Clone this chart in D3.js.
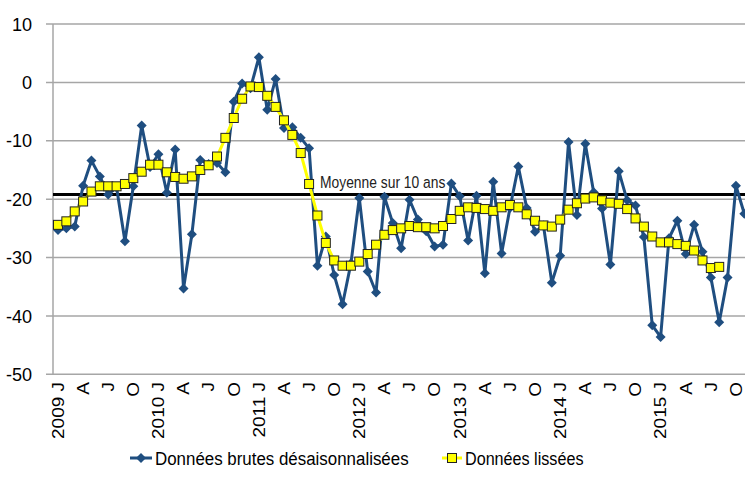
<!DOCTYPE html>
<html lang="fr">
<head>
    <meta charset="UTF-8">
    <title>Données brutes et lissées</title>
    <script src="https://d3js.org/d3.v7.min.js"></script>
    <style>
        body {
            margin: 0;
            background: #ffffff;
            font-family: 'Liberation Sans', Arial, sans-serif;
        }
        .grid line {
            stroke: #a6a6a6;
            stroke-width: 1.5px;
        }
        .tick-label {
            font-size: 19px;
            fill: #000;
        }
        .legend text {
            font-size: 19px;
            fill: #000;
        }
    </style>
</head>
<body>
    <svg width="745" height="494"></svg>

    <script>
        // années et lettres des mois (étiquettes tous les 3 mois)
        const years = [2009, 2010, 2011, 2012, 2013, 2014, 2015];
        const monthLetters = ["J", "F", "M", "A", "M", "J", "J", "A", "S", "O", "N", "D"];
        const yTicks = [10, 0, -10, -20, -30, -40, -50];

        // données brutes désaisonnalisées (janv. 2009 -> nov. 2015)
        const rawValues = [
            -25.3, -25.0, -24.7, -17.7, -13.4, -16.1, -19.2, -18.0, -27.2, -17.8, -7.4, -14.5,
            -12.3, -18.9, -11.5, -35.3, -26.0, -13.3, -14.0, -13.8, -15.4, -3.3, -0.2, -1.0,
            4.3, -4.7, 0.6, -7.8, -7.7, -9.5, -11.3, -31.4, -26.4, -33.0, -38.0, -31.0,
            -19.8, -32.4, -36.0, -19.6, -24.1, -28.4, -20.1, -23.5, -25.5, -28.1, -27.8, -17.3,
            -19.5, -27.1, -19.4, -32.7, -17.0, -29.3, -21.5, -14.4, -21.5, -25.6, -24.5, -34.3,
            -29.7, -10.2, -22.7, -10.5, -18.8, -21.6, -31.2, -15.2, -20.2, -21.1, -26.5, -41.6,
            -43.6, -26.7, -23.7, -29.4, -24.4, -29.0, -33.4, -41.1, -33.4, -17.7, -22.5
        ];

        // données lissées (janv. 2009 -> août 2015)
        const smoothValues = [
            -24.4, -23.8, -22.1, -20.4, -18.7, -17.8, -17.8, -17.8, -17.4, -16.4, -15.3, -14.1,
            -14.1, -15.4, -16.2, -16.5, -16.1, -15.0, -14.2, -12.7, -9.5, -6.1, -2.8, -0.7,
            -0.8, -2.3, -4.2, -6.5, -9.0, -12.1, -17.4, -22.8, -27.5, -30.5, -31.4, -31.4,
            -30.7, -29.4, -27.8, -26.1, -25.3, -25.0, -24.6, -24.8, -24.8, -25.0, -24.6, -23.4,
            -22.0, -21.4, -21.5, -21.7, -22.0, -21.4, -21.0, -21.4, -22.6, -23.7, -24.5, -24.7,
            -23.5, -21.8, -20.7, -19.9, -19.7, -20.2, -20.6, -20.8, -21.7, -23.3, -24.7, -26.4,
            -27.4, -27.4, -27.7, -28.0, -28.8, -30.5, -31.8, -31.6
        ];

        const meanValue = -19.2;
        const meanLabel = "Moyenne sur 10 ans";
        const legendLabels = ["Données brutes désaisonnalisées", "Données lissées"];

        // catégories mensuelles
        const months = [];
        years.forEach(yr => monthLetters.forEach((m, i) => months.push({ year: yr, month: i, letter: m })));
        const categories = months.slice(0, rawValues.length);

        const blue = "#1f4e80";
        const yellow = "#ffff00";
        const squeeze = 0.88; // police un peu étroite comme l'original

        const svg = d3.select("svg");
        const plotLeft = 53, plotTop = 24, plotBottom = 374.3;

        const x = d3.scaleBand()
            .domain(categories.map((d, i) => i))
            .range([plotLeft + 0.8, plotLeft + 0.8 + categories.length * 8.37]);
        const cx = i => x(i) + x.bandwidth() / 2;

        const y = d3.scaleLinear().domain([-50, 10]).range([plotBottom, plotTop]);

        // grille horizontale
        const grid = svg.append("g").attr("class", "grid");
        grid.selectAll("line")
            .data(yTicks)
            .enter()
            .append("line")
            .attr("x1", plotLeft - 7)
            .attr("x2", 745)
            .attr("y1", d => y(d))
            .attr("y2", d => y(d));

        // axe vertical
        svg.append("line")
            .attr("x1", plotLeft).attr("x2", plotLeft)
            .attr("y1", y(10)).attr("y2", y(-50))
            .attr("stroke", "#a6a6a6")
            .attr("stroke-width", 1.5);

        // étiquettes Y
        svg.selectAll(".ylab")
            .data(yTicks)
            .enter()
            .append("text")
            .attr("class", "tick-label")
            .attr("dy", "0.35em")
            .attr("text-anchor", "end")
            .attr("transform", d => `translate(32,${y(d)}) scale(0.95,1)`)
            .text(d => d);

        // étiquettes X (tous les 3 mois)
        svg.selectAll(".xlab")
            .data(categories.filter(d => d.month % 3 === 0))
            .enter()
            .append("text")
            .attr("class", "tick-label")
            .attr("text-anchor", "end")
            .attr("dy", "0.35em")
            .attr("transform", d => `translate(${cx(categories.indexOf(d))},382) rotate(-90) scale(1,${squeeze})`)
            .text(d => d.month === 0 ? `${d.year} J` : d.letter);

        // moyenne sur 10 ans
        svg.append("line")
            .attr("x1", plotLeft)
            .attr("x2", 745)
            .attr("y1", y(meanValue))
            .attr("y2", y(meanValue))
            .attr("stroke", "#000")
            .attr("stroke-width", 3);

        // série brute
        const line = d3.line().x((d, i) => cx(i)).y(d => y(d));
        const diamond = d3.symbol().type(d3.symbolSquare).size(50);

        svg.append("path")
            .datum(rawValues)
            .attr("fill", "none")
            .attr("stroke", blue)
            .attr("stroke-width", 3)
            .attr("stroke-linejoin", "round")
            .attr("d", line);

        svg.selectAll(".raw")
            .data(rawValues)
            .enter()
            .append("path")
            .attr("d", diamond)
            .attr("fill", blue)
            .attr("transform", (d, i) => `translate(${cx(i)},${y(d)}) rotate(45)`);

        // série lissée
        svg.append("path")
            .datum(smoothValues)
            .attr("fill", "none")
            .attr("stroke", yellow)
            .attr("stroke-width", 3)
            .attr("d", line);

        svg.selectAll(".smooth")
            .data(smoothValues)
            .enter()
            .append("rect")
            .attr("x", (d, i) => cx(i) - 4.5)
            .attr("y", d => y(d) - 4.5)
            .attr("width", 9)
            .attr("height", 9)
            .attr("fill", yellow)
            .attr("stroke", "#222")
            .attr("stroke-width", 1);

        // étiquette de la moyenne, au-dessus des séries
        svg.append("text")
            .attr("transform", `translate(320,${y(meanValue) - 6}) scale(0.84,1)`)
            .attr("font-size", 16.5)
            .attr("fill", "#222")
            .text(meanLabel);

        // légende
        const legend = svg.append("g").attr("class", "legend").attr("transform", "translate(0,458)");
        const l1 = legend.append("g").attr("transform", "translate(130,0)");
        l1.append("line").attr("x1", 0).attr("x2", 22).attr("stroke", blue).attr("stroke-width", 3);
        l1.append("path").attr("d", diamond).attr("fill", blue).attr("transform", "translate(11,0) rotate(45)");
        l1.append("text").attr("dy", "0.35em")
            .attr("transform", `translate(25,0) scale(0.89,1)`)
            .text(legendLabels[0]);

        const l2 = legend.append("g").attr("transform", "translate(442,0)");
        l2.append("line").attr("x1", 0).attr("x2", 20).attr("stroke", yellow).attr("stroke-width", 3);
        l2.append("rect").attr("x", 5.5).attr("y", -4.5).attr("width", 9).attr("height", 9)
            .attr("fill", yellow).attr("stroke", "#222");
        l2.append("text").attr("dy", "0.35em")
            .attr("transform", `translate(23,0) scale(0.85,1)`)
            .text(legendLabels[1]);
    </script>
</body>
</html>
